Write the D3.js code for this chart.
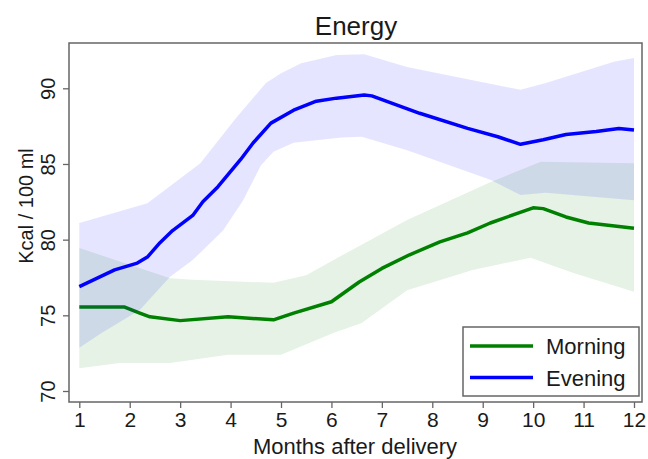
<!DOCTYPE html>
<html>
<head>
<meta charset="utf-8">
<script src="https://cdn.jsdelivr.net/npm/d3@7"></script>
<style>
  body { margin: 0; background: #fff; }
  svg text { font-family: "Liberation Sans", Arial, sans-serif; fill: #1a1a1a; }
</style>
</head>
<body>
<div id="chart"></div>
<script>
// Energy, Kcal per 100 ml, morning vs evening milk

var title = "Energy"
var xTitle = "Months after delivery"
var yTitle = "Kcal / 100 ml"
var xTicks = [1,2,3,4,5,6,7,8,9,10,11,12]
var yTicks = [70,75,80,85,90]
var seriesNames = ["Morning", "Evening"]

// mean lines
var morningMonths = [1, 1.9, 2.2, 2.4, 3, 3.95, 4.85, 5.25, 6, 6.55, 7, 7.55, 8.15, 8.7, 9.15, 9.7, 10, 10.2, 10.65, 11.1, 12]
var morningMean   = [75.55, 75.55, 75.15, 74.9, 74.65, 74.9, 74.7, 75.15, 75.9, 77.2, 78.1, 79.0, 79.85, 80.45, 81.1, 81.75, 82.1, 82.05, 81.5, 81.1, 80.75]

var eveningMonths = [1, 1.7, 2.15, 2.35, 2.6, 2.85, 3.25, 3.45, 3.75, 4.2, 4.45, 4.8, 5.25, 5.7, 6.1, 6.65, 6.8, 7.75, 8.7, 9.3, 9.75, 10.2, 10.65, 11.25, 11.7, 12]
var eveningMean   = [76.9, 78.0, 78.45, 78.85, 79.8, 80.6, 81.6, 82.5, 83.5, 85.3, 86.4, 87.7, 88.55, 89.15, 89.35, 89.55, 89.5, 88.35, 87.35, 86.8, 86.3, 86.6, 86.95, 87.15, 87.35, 87.25]

// confidence bands
var mornUpperMonths = [1, 2.8, 3.25, 4.85, 5.5, 6.15, 7.5, 9.15, 10.15, 12]
var mornUpper       = [79.45, 77.45, 77.35, 77.15, 77.65, 78.85, 81.3, 83.8, 85.15, 85.05]
var mornLowerMonths = [1, 1.8, 2.8, 3.95, 5, 6.05, 6.6, 7.5, 8.8, 9.95, 10.8, 12]
var mornLower       = [71.5, 71.85, 71.85, 72.4, 72.4, 73.85, 74.5, 76.65, 78.0, 78.8, 77.8, 76.55]

var eveUpperMonths = [1, 2.35, 3.4, 4.1, 4.7, 5.0, 5.4, 6.1, 6.65, 7.5, 9.75, 10.25, 11.6, 12]
var eveUpper       = [81.1, 82.4, 85.05, 88.0, 90.35, 91.0, 91.65, 92.2, 92.25, 91.4, 89.9, 90.35, 91.75, 92.0]
var eveLowerMonths = [1, 1.45, 2.2, 2.8, 3.25, 3.85, 4.25, 4.6, 4.85, 5.25, 6.2, 6.6, 7.5, 9.15, 9.75, 10.25, 12]
var eveLower       = [72.85, 73.85, 75.35, 77.55, 78.65, 80.6, 82.6, 84.9, 85.8, 86.4, 86.75, 86.8, 85.9, 83.95, 82.95, 83.1, 82.6]

var width = 648
var height = 459
var frame = {left: 69, top: 43, right: 642, bottom: 402}

var lineColors = ["#008000", "#0000ff"]
var bandColors = ["rgba(0,128,0,0.1)", "rgba(0,0,255,0.1)"]

var svg = d3.select("#chart").append("svg")
    .attr("width", width)
    .attr("height", height)

var x = d3.scaleLinear().domain([1, 12]).range([79.3, 634])
var y = d3.scaleLinear().domain([70, 90]).range([391, 88.3])

function zipPts(ms, vs){
  return ms.map(function(m,i){ return [m, vs[i]] })
}

var line = d3.line()
    .x(function(d){ return x(d[0]) })
    .y(function(d){ return y(d[1]) })

function bandPath(um, uv, lm, lv){
  var pts = zipPts(um, uv).concat(zipPts(lm, lv).reverse())
  return line(pts) + "Z"
}

// morning band + line, then evening band over it + line
svg.append("path")
    .attr("d", bandPath(mornUpperMonths, mornUpper, mornLowerMonths, mornLower))
    .attr("fill", bandColors[0])
svg.append("path")
    .attr("d", line(zipPts(morningMonths, morningMean)))
    .attr("fill", "none")
    .attr("stroke", lineColors[0])
    .attr("stroke-width", 3.5)
    .attr("stroke-linejoin", "round")
svg.append("path")
    .attr("d", bandPath(eveUpperMonths, eveUpper, eveLowerMonths, eveLower))
    .attr("fill", bandColors[1])
svg.append("path")
    .attr("d", line(zipPts(eveningMonths, eveningMean)))
    .attr("fill", "none")
    .attr("stroke", lineColors[1])
    .attr("stroke-width", 3.5)
    .attr("stroke-linejoin", "round")

// frame
svg.append("rect")
    .attr("x", frame.left)
    .attr("y", frame.top)
    .attr("width", frame.right - frame.left)
    .attr("height", frame.bottom - frame.top)
    .attr("fill", "none")
    .attr("stroke", "#666")
    .attr("stroke-width", 1.5)

// x axis
var xAxis = svg.append("g")
    .attr("transform", "translate(0," + frame.bottom + ")")
    .call(d3.axisBottom(x).tickValues(xTicks).tickSize(6).tickPadding(4).tickFormat(d3.format("d")))
xAxis.select(".domain").remove()
xAxis.selectAll(".tick line").attr("stroke", "#666").attr("stroke-width", 1.3)
xAxis.selectAll(".tick text")
    .style("font-size", "21px")
    .attr("fill", "#1a1a1a")

// y axis, labels rotated
var yAxis = svg.append("g")
    .attr("transform", "translate(" + frame.left + ",0)")
    .call(d3.axisLeft(y).tickValues(yTicks).tickSize(6).tickFormat(d3.format("d")))
yAxis.select(".domain").remove()
yAxis.selectAll(".tick line").attr("stroke", "#666").attr("stroke-width", 1.3)
yAxis.selectAll(".tick text")
    .attr("x", null).attr("dy", null)
    .attr("transform", "translate(-14,0) rotate(-90)")
    .attr("text-anchor", "middle")
    .style("font-size", "20px")
    .attr("fill", "#1a1a1a")

// titles
svg.append("text")
    .attr("x", 356)
    .attr("y", 35)
    .attr("text-anchor", "middle")
    .style("font-size", "26px")
    .text(title)

svg.append("text")
    .attr("x", 355)
    .attr("y", 454)
    .attr("text-anchor", "middle")
    .style("font-size", "22px")
    .text(xTitle)

svg.append("text")
    .attr("transform", "translate(33,206) rotate(-90)")
    .attr("text-anchor", "middle")
    .style("font-size", "20px")
    .text(yTitle)

// legend
var legend = svg.append("g")
legend.append("rect")
    .attr("x", 463).attr("y", 327)
    .attr("width", 176).attr("height", 69)
    .attr("fill", "#fff")
    .attr("stroke", "#666")
    .attr("stroke-width", 1.5)

seriesNames.forEach(function(name, i){
  var ly = 346 + i*31.5
  legend.append("line")
      .attr("x1", 470).attr("x2", 533)
      .attr("y1", ly).attr("y2", ly)
      .attr("stroke", lineColors[i])
      .attr("stroke-width", 3.5)
  legend.append("text")
      .attr("x", 546)
      .attr("y", ly + 8)
      .style("font-size", "22px")
      .text(name)
})
</script>
</body>
</html>
